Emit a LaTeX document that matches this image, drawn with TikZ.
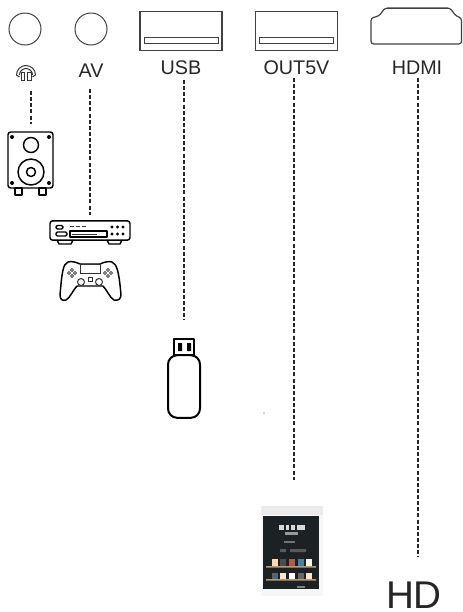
\documentclass[tikz,border=0pt]{standalone}
\usepackage{fontspec}
\setmainfont{Liberation Sans}
\usetikzlibrary{positioning}
\definecolor{portgray}{gray}{0.25}
\definecolor{screen}{HTML}{1C2224}
\definecolor{shelf}{HTML}{B89A70}

\begin{document}
\begin{tikzpicture}[
  x=0.75pt, y=-0.75pt,
  every node/.style={font=\fontsize{14.8pt}{16pt}\selectfont, text=black!85, inner sep=0pt},
  jack/.style={circle, draw=portgray, line width=0.75pt, minimum size=24pt},
  usbport/.style={rectangle, draw=portgray, line width=0.9pt, minimum width=61.5pt, minimum height=29pt},
  slot/.style={rectangle, draw=portgray, line width=0.75pt, minimum width=55.5pt, minimum height=5pt},
  wire/.style={line width=1.5pt, black!85, dash pattern=on 3pt off 1.6pt},
  icon/.style={line width=1.1pt, black, line join=round},
  thin icon/.style={line width=0.75pt, black!80},
  node distance=6pt
]
\useasboundingbox (0,0) rectangle (462,612);

% Ports along the top
\node[jack] (phonejack) at (25,29) {};
\node[jack] (avjack) at (91,29) {};
\node[usbport] (usb) at (181,31) {};
\node[slot] (usbslot) at (181,40.5) {};
\node[usbport] (out) at (296.5,31) {};
\node[slot] (outslot) at (296.5,40.5) {};
\draw[line width=0.9pt, portgray, rounded corners=2pt] (371,44) -- (371,18) -- (379,16) -- (385,8)
  -- (450,8) -- (456,16) -- (461.5,18) -- (461.5,44) -- cycle;
\draw[line width=1.2pt, portgray] (385,8.5) -- (450,8.5);

% Port labels
\node (avlabel) at (91,71) {AV};
\node[below=7.5pt of usb] (usblabel) {USB};
\node[below=7.5pt of out] (outlabel) {OUT5V};
\node (hdmilabel) at (417,68) {HDMI};

% Headphones
\node[minimum width=15pt, minimum height=13pt] (phones) at (26,71) {};
\draw[thin icon] (16.5,75) arc[start angle=180, end angle=360, radius=9.5];
\draw[thin icon] (19.5,75) arc[start angle=180, end angle=360, radius=6.5];
\draw[thin icon] (16.5,75) -- (19.5,77) (35.5,75) -- (32.5,77);
\draw[thin icon] (21,72) rectangle (24.5,80) (27.5,72) rectangle (31,80);

% Speaker
\node[draw, icon, rounded corners=2pt, minimum width=33.75pt, minimum height=42pt] (speaker) at (30.5,160) {};
\draw[icon] (31,145) circle[radius=7.5];
\draw[icon] (31,172) circle[radius=13];
\draw[icon] (31,172) circle[radius=4.5];
\foreach \px/\py in {12/137, 49/137, 12/183, 49/183}
  \fill (\px,\py) circle[radius=2];
\draw[icon] (15,188) rectangle (22,195) (39,188) rectangle (46,195);

% Player
\node[draw, icon, rounded corners=2pt, minimum width=60pt, minimum height=14.5pt] (player) at (90,230.5) {};
\draw[icon] (57,240) -- (59,244) -- (71,244) -- (73,240) (107,240) -- (109,244) -- (120,244) -- (122,240);
\draw[icon, rounded corners=1pt] (56,225.5) rectangle (63,229) (56,232) rectangle (67,236);
\draw[icon] (70,231) rectangle (107,237);
\draw[thin icon] (72,234) -- (97,234);
\draw[thin icon, dash pattern=on 3pt off 1.5pt] (70,226) -- (87,226);
\foreach \px in {112,117.5,123}
  \foreach \py in {227,234}
    \fill (\px,\py) circle[radius=1.6];

% Game pad
\node[minimum width=45pt, minimum height=28pt] (pad) at (90,281) {};
\draw[icon] (80,264) .. controls (76,262) and (71,261) .. (68,262) .. controls (63,264) and (62,272) .. (60,295)
  .. controls (60,300) and (63,301) .. (66,300) .. controls (70,298) and (73,290) .. (77,286)
  -- (103,286) .. controls (107,290) and (110,298) .. (114,300) .. controls (118,301) and (121,299) .. (121,295)
  .. controls (119,272) and (117,264) .. (112,262) .. controls (109,261) and (104,262) .. (100,264) -- cycle;
\draw[thin icon] (80,264) rectangle (100,273);
\draw[thin icon] (81,282) circle[radius=3.5] (99,282) circle[radius=3.5];
\draw[thin icon] (88,277) rectangle (92,281);
\foreach \px in {72,108}
  \foreach \dx/\dy in {3/0, -3/0, 0/3, 0/-3}
    \draw[line width=0.5pt] (\px+\dx,273+\dy) circle[radius=1.5];

% USB stick
\node[draw, icon, rounded corners=7pt, line width=1.5pt, minimum width=24pt, minimum height=47pt] (stick) at (184,386.5) {};
\node[draw, icon, line width=1.5pt, minimum width=15pt, minimum height=12pt] (stickcap) at (184,347) {};
\fill (178,343) rectangle (182,351) (187,343) rectangle (191,351);

% Tablet
\node[fill=black!3, minimum width=46.5pt, minimum height=68pt] (tablet) at (292,551) {};
\fill[black!8] (261,506) rectangle (323,515);
\fill[screen] (263,516) rectangle (319,589);
\foreach \bx/\bw in {279/5, 286/3, 291/4, 297/8}
  \fill[white!85!black] (\bx,525) rectangle +(\bw,5);
\fill[white!60!black] (285,532) rectangle (298,535);
\fill[white!45!black] (284,541) rectangle (295,543);
\fill[white!35!black] (280,549) rectangle (286,552) (290,549) rectangle (306,552);
\foreach \bx/\bcol in {272/white!70!orange, 280/black!70, 289/orange!70!blue, 298/cyan!60!black, 306/white!90!orange}
  \fill[\bcol] (\bx,559) rectangle +(6,7);
\foreach \bx/\bcol in {272/cyan!40!black, 280/white!80!orange, 289/white, 298/black!60, 306/white!80!orange}
  \fill[\bcol] (\bx,573) rectangle +(6,6);
\fill[shelf] (266,566) rectangle (316,567.5) (266,579) rectangle (316,580.5);
\fill[black!50] (297,586) rectangle (305,588);

% Stray dot and bottom label
\fill[black!70] (264,413) circle[radius=0.6];
\node[font=\fontsize{29pt}{32pt}\selectfont] (hdlabel) at (414,595) {HD};

% Dashed connections
\coordinate (phonewire) at (31,91);
\coordinate (avwire) at (90,89);
\coordinate (usbwire) at (184,80);
\coordinate (outwire) at (294,78);
\coordinate (hdmiwire) at (418,78);
\coordinate (hdwire) at (418,557);
\coordinate (outend) at (294,480);

\draw[wire, shorten >=5.5pt] (phonewire) -- (speaker.north -| phonewire);
\draw[wire, shorten >=3.5pt] (avwire) -- (player.north -| avwire);
\draw[wire, shorten >=13.5pt] (usbwire) -- (stickcap.north);
\draw[wire] (outwire) -- (outend);
\draw[wire] (hdmiwire) -- (hdwire);

\end{tikzpicture}
\end{document}
